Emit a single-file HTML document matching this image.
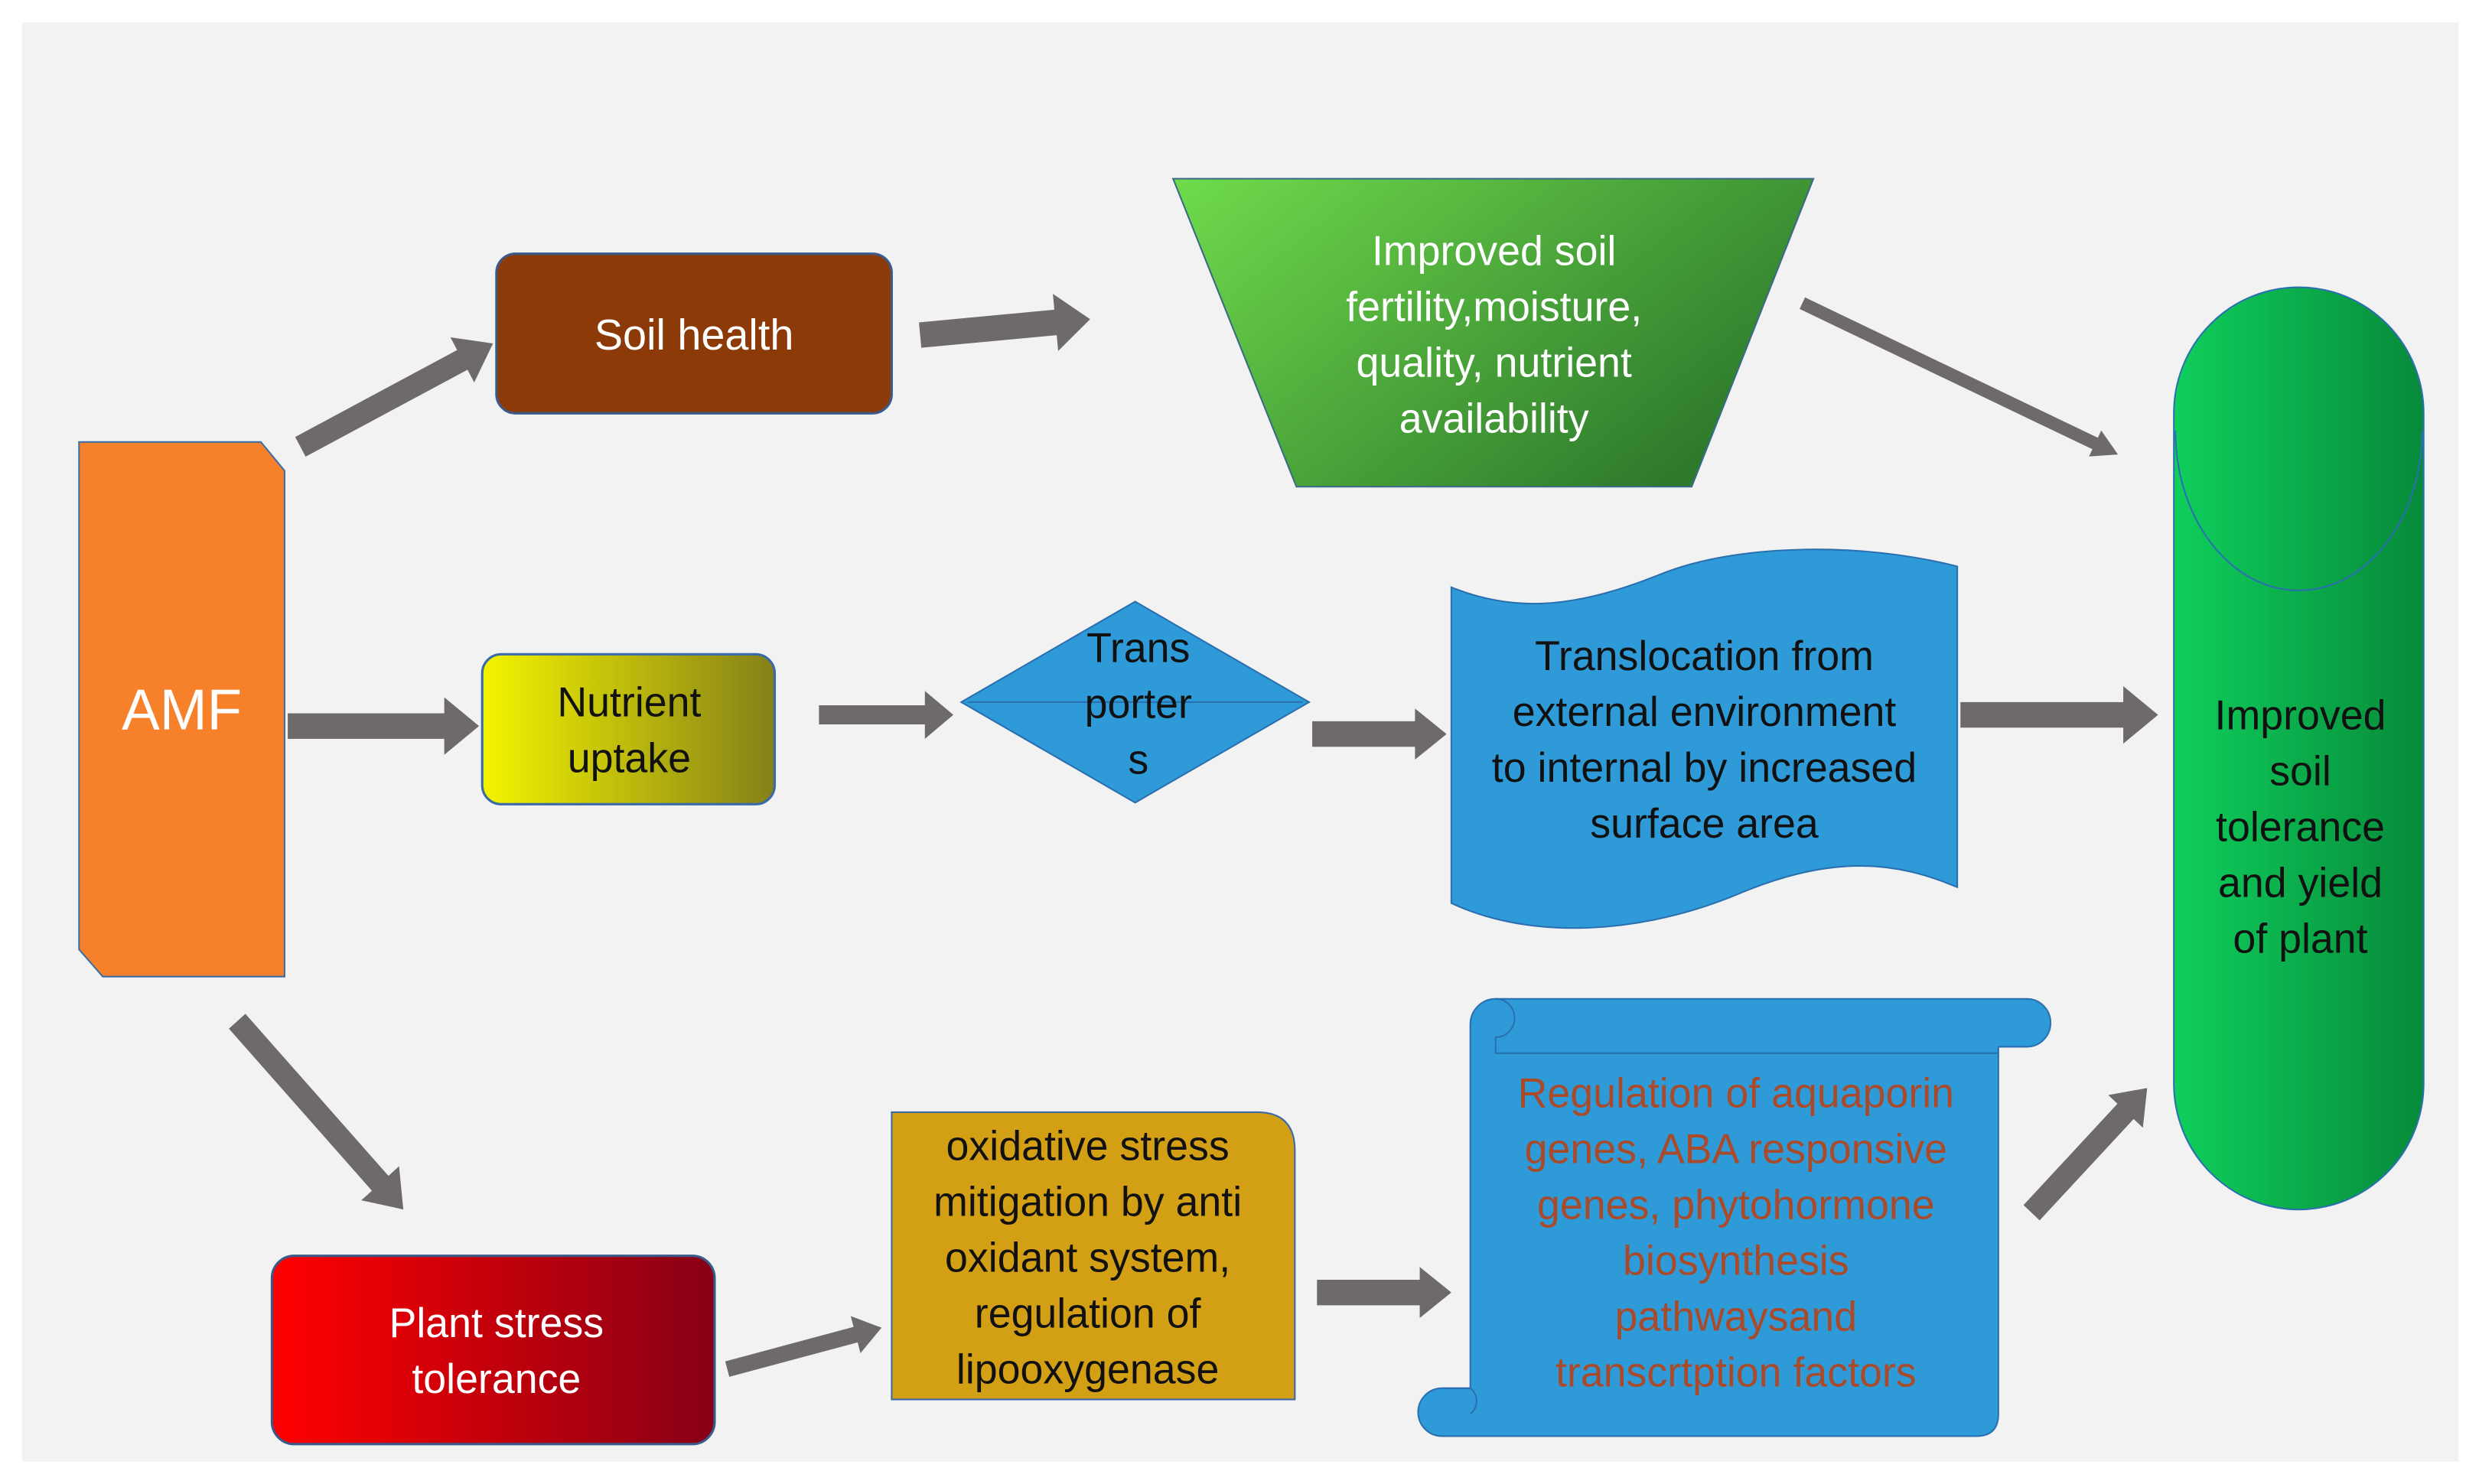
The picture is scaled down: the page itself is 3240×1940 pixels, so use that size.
<!DOCTYPE html>
<html><head><meta charset="utf-8"><style>
html,body{margin:0;padding:0;background:#fff;}
svg{display:block;}
text{font-family:"Liberation Sans",sans-serif;text-anchor:middle;}
</style></head><body>
<svg width="3240" height="1940" viewBox="0 0 1568 930" preserveAspectRatio="none" xmlns="http://www.w3.org/2000/svg">
<defs>
<linearGradient id="gY" x1="0" y1="0" x2="1" y2="0"><stop offset="0" stop-color="#f4f400"/><stop offset="1" stop-color="#858018"/></linearGradient>
<linearGradient id="gG" x1="0" y1="0" x2="1" y2="0.6"><stop offset="0" stop-color="#70dc4c"/><stop offset="1" stop-color="#2e7a2c"/></linearGradient>
<linearGradient id="gR" x1="0" y1="0" x2="1" y2="0"><stop offset="0" stop-color="#ff0000"/><stop offset="1" stop-color="#870016"/></linearGradient>
<linearGradient id="gP" x1="0" y1="0" x2="1" y2="0"><stop offset="0" stop-color="#0fcf5c"/><stop offset="1" stop-color="#078a3a"/></linearGradient>
</defs>
<rect x="0" y="0" width="1568" height="930" fill="#fff"/>
<rect x="14" y="14" width="1541" height="902" fill="#f2f2f2"/>

<!-- AMF -->
<polygon points="50,277 165,277 180,295 180,612 65,612 50,595" fill="#f7802a" stroke="#3e6ea8" stroke-width="1"/>
<text x="115" y="457" font-size="36" fill="#fff">AMF</text>

<!-- Soil health -->
<rect x="314" y="159" width="250" height="100" rx="12" fill="#8c3a08" stroke="#3a5a8a" stroke-width="1.5"/>
<text x="439" y="219" font-size="27" fill="#fff">Soil health</text>

<!-- Trapezoid -->
<polygon points="742,112 1147,112 1070,305 820,305" fill="url(#gG)" stroke="#3a6a8a" stroke-width="1"/>
<g font-size="26" fill="#fff">
<text x="945" y="166">Improved soil</text>
<text x="945" y="201">fertility,moisture,</text>
<text x="945" y="236">quality, nutrient</text>
<text x="945" y="271">availability</text>
</g>

<!-- Nutrient uptake -->
<rect x="305" y="410" width="185" height="94" rx="12" fill="url(#gY)" stroke="#3a6aa8" stroke-width="1.5"/>
<text x="398" y="449" font-size="26" fill="#111">Nutrient</text>
<text x="398" y="484" font-size="26" fill="#111">uptake</text>

<!-- Diamond -->
<polygon points="718,377 828,440 718,503 608,440" fill="#2e9bd8" stroke="#2a70b0" stroke-width="1"/>
<line x1="612" y1="440" x2="824" y2="440" stroke="#2a70b0" stroke-width="1"/>
<g font-size="26" fill="#111">
<text x="720" y="415">Trans</text>
<text x="720" y="450">porter</text>
<text x="720" y="485">s</text>
</g>

<!-- Translocation wave -->
<path d="M918,368 C960,385 1000,380 1050,360 C1100,340 1180,340 1238,355 L1238,556 C1200,540 1160,535 1100,560 C1040,585 970,590 918,566 Z" fill="#2e9bd8" stroke="#2a70b0" stroke-width="1"/>
<g font-size="26" fill="#111">
<text x="1078" y="420">Translocation from</text>
<text x="1078" y="455">external environment</text>
<text x="1078" y="490">to internal by increased</text>
<text x="1078" y="525">surface area</text>
</g>

<!-- Pill -->
<rect x="1375" y="180" width="158" height="578" rx="79" fill="url(#gP)" stroke="#2a70b0" stroke-width="1"/>
<path d="M1376,270 A78,100 0 0 0 1532,270" fill="none" stroke="#2a70b0" stroke-width="1"/>
<g font-size="26" fill="#111">
<text x="1455" y="457">Improved</text>
<text x="1455" y="492">soil</text>
<text x="1455" y="527">tolerance</text>
<text x="1455" y="562">and yield</text>
<text x="1455" y="597">of plant</text>
</g>

<!-- Plant stress -->
<rect x="172" y="787" width="280" height="118" rx="14" fill="url(#gR)" stroke="#3a5a8a" stroke-width="1.5"/>
<text x="314" y="838" font-size="26" fill="#fff">Plant stress</text>
<text x="314" y="873" font-size="26" fill="#fff">tolerance</text>

<!-- Oxidative -->
<path d="M564,697 L795,697 Q819,697 819,721 L819,877 L564,877 Z" fill="#d39f14" stroke="#3a6aa8" stroke-width="1"/>
<g font-size="26" fill="#111">
<text x="688" y="727">oxidative stress</text>
<text x="688" y="762">mitigation by anti</text>
<text x="688" y="797">oxidant system,</text>
<text x="688" y="832">regulation of</text>
<text x="688" y="867">lipooxygenase</text>
</g>

<!-- Scroll -->
<path d="M946,626 L1282,626 A15,15 0 0 1 1282,656 L1264,656 L1264,886 Q1264,900 1250,900 L912,900 A15,15 0 0 1 912,870 L930,870 L930,642 A16,16 0 0 1 946,626 Z" fill="#2e9bd8" stroke="#2a70b0" stroke-width="1"/>
<path d="M946,626 A12,12 0 0 1 946,650 L946,660 L1264,660" fill="none" stroke="#2a70b0" stroke-width="1"/>
<path d="M930,870 A10,10 0 0 1 930,886 M912,870 L930,870" fill="none" stroke="#2a70b0" stroke-width="1"/>
<g font-size="26" fill="#a94a2a">
<text x="1098" y="694">Regulation of aquaporin</text>
<text x="1098" y="729">genes, ABA responsive</text>
<text x="1098" y="764">genes, phytohormone</text>
<text x="1098" y="799">biosynthesis</text>
<text x="1098" y="834">pathwaysand</text>
<text x="1098" y="869">transcrtption factors</text>
</g>

<!-- Arrows -->
<g fill="#6e6a6a">
<g transform="translate(190,280) rotate(-28)"><polygon points="0,-7 116,-7 116,-16 138,0 116,16 116,7 0,7"/></g>
<g transform="translate(582,210) rotate(-5.3)"><polygon points="0,-8 86,-8 86,-18 108,0 86,18 86,8 0,8"/></g>
<g transform="translate(1140,190) rotate(25.4)"><polygon points="0,-4 205,-4 205,-9 221,0 205,9 205,4 0,4"/></g>
<g transform="translate(182,455) rotate(0)"><polygon points="0,-8 99,-8 99,-18 121,0 99,18 99,8 0,8"/></g>
<g transform="translate(518,448) rotate(0)"><polygon points="0,-6 67,-6 67,-15 85,0 67,15 67,6 0,6"/></g>
<g transform="translate(830,460) rotate(0)"><polygon points="0,-8 65,-8 65,-16 85,0 65,16 65,8 0,8"/></g>
<g transform="translate(1240,448) rotate(0)"><polygon points="0,-8 103,-8 103,-18 125,0 103,18 103,8 0,8"/></g>
<g transform="translate(150,640) rotate(48.3)"><polygon points="0,-7 136,-7 136,-16 158,0 136,16 136,7 0,7"/></g>
<g transform="translate(460,858) rotate(-14.9)"><polygon points="0,-5 84,-5 84,-12 101,0 84,12 84,5 0,5"/></g>
<g transform="translate(833,810) rotate(0)"><polygon points="0,-8 65,-8 65,-16 85,0 65,16 65,8 0,8"/></g>
<g transform="translate(1285,760) rotate(-46.9)"><polygon points="0,-7 87,-7 87,-15 107,0 87,15 87,7 0,7"/></g>
</g>
</svg>
</body></html>
